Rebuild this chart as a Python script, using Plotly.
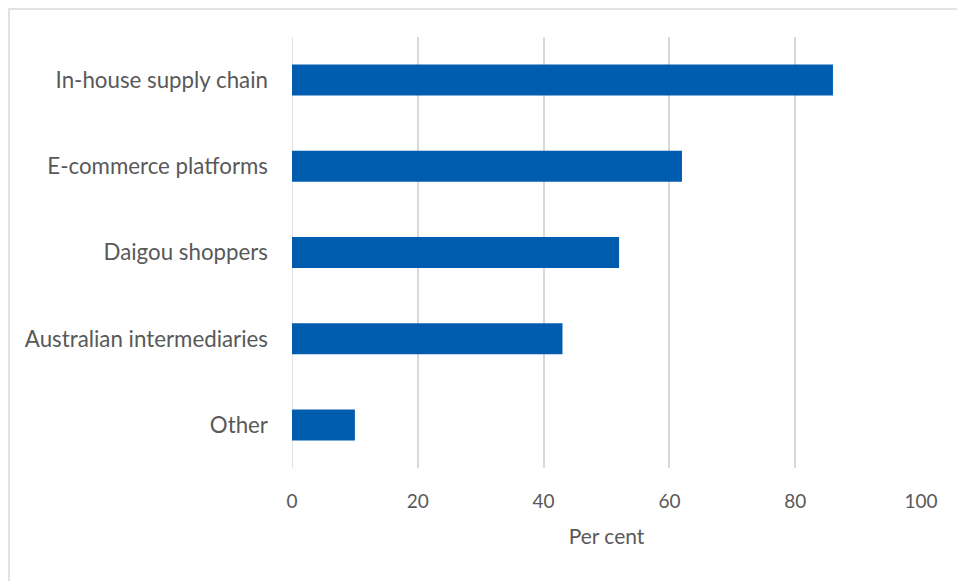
import plotly.graph_objects as go

categories = ["Other", "Australian intermediaries", "Daigou shoppers", "E-commerce platforms", "In-house supply chain"]
values = [10, 43, 52, 62, 86]
x_ticks = [0, 20, 40, 60, 80, 100]

W, H = 965, 581
L, R, T, B = 284, 52, 29, 121
pw, ph = W - L - R, H - T - B

fig = go.Figure(go.Bar(
    x=values, y=categories, orientation="h",
    marker=dict(color="#005CAE", line=dict(width=0)),
    width=0.36,
))

font_family = "Lato, 'Open Sans', sans-serif"
fig.update_layout(
    width=W, height=H,
    margin=dict(l=L, r=R, t=T, b=B),
    paper_bgcolor="white", plot_bgcolor="white",
    font=dict(family=font_family, size=19, color="#595959"),
    showlegend=False,
    xaxis=dict(
        range=[0, 100], tickvals=x_ticks, showgrid=True, gridcolor="#d9d9d9", gridwidth=1.5,
        zeroline=False, showline=False, ticks="", ticklabelstandoff=20,
        tickfont=dict(size=19),
        title=dict(text="Per cent", standoff=18, font=dict(size=21)),
    ),
    yaxis=dict(
        showgrid=False, zeroline=False, showline=False, ticks="",
        ticklabelstandoff=23, range=[-0.5, 4.5], tickfont=dict(size=22.3),
    ),
    shapes=[dict(type="line", xref="x", yref="paper", x0=0, x1=0, y0=0, y1=1,
                 line=dict(color="#d9d9d9", width=1.5), layer="below"),
            dict(type="rect", xref="paper", yref="paper",
                 x0=(-L + 1) / pw, x1=1.2, y0=-1, y1=1 + (T - 1) / ph,
                 line=dict(color="#d9d9d9", width=1.5), fillcolor="rgba(0,0,0,0)")],
)
fig.write_html("out.html")
